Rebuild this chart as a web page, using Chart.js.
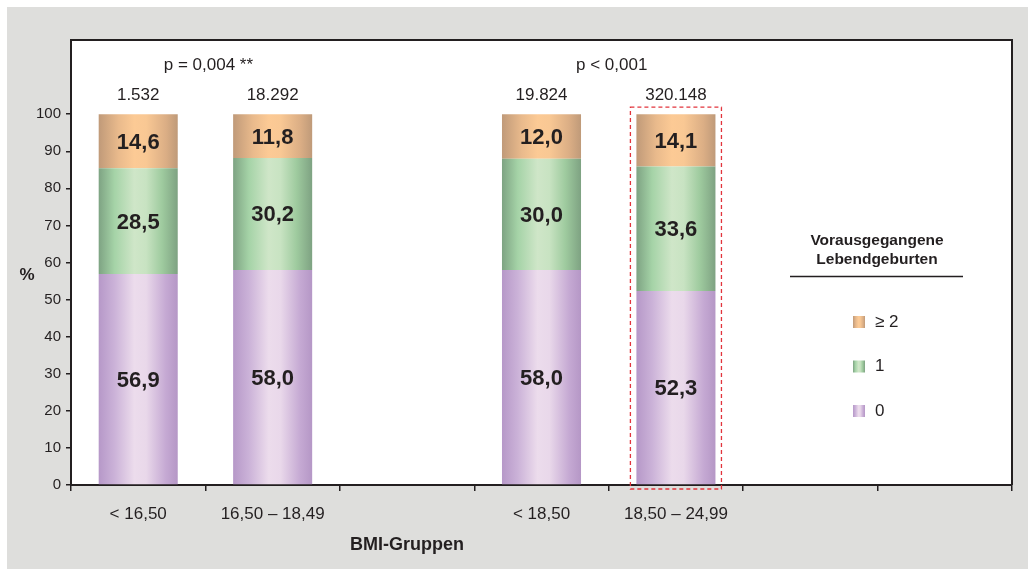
<!DOCTYPE html>
<html>
<head>
<meta charset="utf-8">
<script src="https://cdn.jsdelivr.net/npm/chart.js@4.4.1/dist/chart.umd.min.js"></script>
<style>
  html, body { margin: 0; padding: 0; background: #fff; }
  #wrap { position: relative; width: 1028px; height: 569px; }
</style>
</head>
<body>
<div id="wrap"><canvas id="bmiChart"></canvas></div>
<script>
// Daten (Prozent je BMI-Gruppe, leere Kategorien = Platzhalter)
const categories = ['< 16,50', '16,50 – 18,49', '', '< 18,50', '18,50 – 24,99', '', ''];
const lebendZero = [56.9, 58.0, null, 58.0, 52.3, null, null];
const lebendOne = [28.5, 30.2, null, 30.0, 33.6, null, null];
const lebendTwoPlus = [14.6, 11.8, null, 12.0, 14.1, null, null];
const caseCounts = ['1.532', '18.292', '', '19.824', '320.148', '', ''];
const pLabels = ['p = 0,004 **', 'p < 0,001'];
const pPairs = [[0, 1], [3, 4]];
const seriesNames = ['0', '1', '≥ 2'];
const highlightIndex = 4;

const FONT = "'Liberation Sans', Arial, sans-serif";
const INK = '#231f20';
const BAR_PCT = 0.588;

const gradStops = {
  purple: [[0, '#b698c8'], [0.2, '#cbb2d8'], [0.45, '#ecdcec'], [0.6, '#e9d8ea'], [0.85, '#c5a9d3'], [1, '#b597c6']],
  green:  [[0, '#7ea383'], [0.2, '#a5d3a7'], [0.45, '#cfe6c8'], [0.6, '#c8e3c2'], [0.8, '#9fcb9f'], [1, '#7ea282']],
  orange: [[0, '#c09a79'], [0.25, '#e9ba8c'], [0.45, '#fcca95'], [0.6, '#f9c894'], [0.85, '#dbae85'], [1, '#bf9a79']]
};

function makeGradient(ctx, left, right, stops) {
  const g = ctx.createLinearGradient(left, 0, right, 0);
  stops.forEach(([o, c]) => g.addColorStop(o, c));
  return g;
}

function barFill(stops) {
  return (c) => {
    const chart = c.chart;
    const xs = chart.scales && chart.scales.x;
    if (!chart.chartArea || !xs || c.dataIndex === undefined) return stops[2][1];
    const cx = xs.getPixelForValue(c.dataIndex);
    const half = xs.width / categories.length * BAR_PCT / 2;
    return makeGradient(chart.ctx, cx - half, cx + half, stops);
  };
}

const fmt = v => v.toFixed(1).replace('.', ',');

// Hintergrund, Rahmen, Beschriftungen, Legende
const decorations = {
  id: 'decorations',
  beforeDraw(chart) {
    const { ctx, chartArea: a } = chart;
    ctx.save();
    ctx.fillStyle = '#fff';
    ctx.fillRect(0, 0, chart.width, chart.height);
    ctx.fillStyle = '#dededc';
    ctx.fillRect(7, 7, chart.width - 7, chart.height - 7);
    ctx.fillStyle = '#fff';
    ctx.fillRect(a.left, a.top, a.right - a.left, a.bottom - a.top);
    ctx.restore();
  },
  afterDatasetsDraw(chart) {
    const { ctx } = chart;
    ctx.save();
    ctx.fillStyle = INK;
    ctx.font = `bold 22px ${FONT}`;
    ctx.textAlign = 'center';
    ctx.textBaseline = 'middle';
    chart.data.datasets.forEach((ds, i) => {
      chart.getDatasetMeta(i).data.forEach((el, j) => {
        const v = ds.data[j];
        if (v == null) return;
        ctx.fillText(fmt(v), el.x, (el.y + el.base) / 2 + 1.5);
      });
    });
    ctx.restore();
  },
  afterDraw(chart) {
    const { ctx, chartArea: a, scales: { x } } = chart;
    ctx.save();
    // Rahmen oben / rechts
    ctx.strokeStyle = INK;
    ctx.lineWidth = 2;
    ctx.beginPath();
    ctx.moveTo(a.left, a.top);
    ctx.lineTo(a.right, a.top);
    ctx.lineTo(a.right, a.bottom);
    ctx.stroke();

    ctx.fillStyle = INK;
    ctx.textAlign = 'center';
    ctx.textBaseline = 'middle';
    ctx.font = `17px ${FONT}`;
    caseCounts.forEach((n, i) => { if (n) ctx.fillText(n, x.getPixelForValue(i), 95); });
    pPairs.forEach(([i0, i1], k) => {
      const cx = (x.getPixelForValue(i0) + x.getPixelForValue(i1)) / 2;
      ctx.fillText(pLabels[k], cx + 3, 65);
    });

    ctx.font = `bold 17px ${FONT}`;
    ctx.fillText('%', 27, 275);
    ctx.font = `bold 18px ${FONT}`;
    ctx.fillText('BMI-Gruppen', x.getPixelForValue(2), 545);

    // Hervorhebung
    const el = chart.getDatasetMeta(2).data[highlightIndex];
    ctx.strokeStyle = '#e2343c';
    ctx.lineWidth = 1.3;
    ctx.setLineDash([4, 3]);
    ctx.strokeRect(el.x - el.width / 2 - 6, el.y - 7, el.width + 12, a.bottom - el.y + 11);
    ctx.setLineDash([]);

    // Legende
    ctx.font = `bold 15.5px ${FONT}`;
    ctx.fillText('Vorausgegangene', 877, 241);
    ctx.fillText('Lebendgeburten', 877, 260);
    ctx.strokeStyle = INK;
    ctx.lineWidth = 1.5;
    ctx.beginPath();
    ctx.moveTo(790, 276.5);
    ctx.lineTo(963, 276.5);
    ctx.stroke();

    const legendStops = [gradStops.orange, gradStops.green, gradStops.purple];
    const legendNames = seriesNames.slice().reverse();
    ctx.font = `17px ${FONT}`;
    ctx.textAlign = 'left';
    legendNames.forEach((name, i) => {
      const y = 322 + i * 44.5;
      ctx.fillStyle = makeGradient(ctx, 853, 865, legendStops[i]);
      ctx.fillRect(853, y - 6, 12, 12);
      ctx.fillStyle = INK;
      ctx.fillText(name, 875, y);
    });
    ctx.restore();
  }
};

new Chart(document.getElementById('bmiChart'), {
  type: 'bar',
  data: {
    labels: categories,
    datasets: [
      { label: seriesNames[0], data: lebendZero, backgroundColor: barFill(gradStops.purple) },
      { label: seriesNames[1], data: lebendOne, backgroundColor: barFill(gradStops.green) },
      { label: seriesNames[2], data: lebendTwoPlus, backgroundColor: barFill(gradStops.orange) }
    ]
  },
  options: {
    responsive: true,
    maintainAspectRatio: false,
    animation: false,
    layout: { padding: { top: 40, right: 16, bottom: 0, left: 0 } },
    datasets: { bar: { barPercentage: BAR_PCT, categoryPercentage: 1, borderWidth: 0 } },
    plugins: { legend: { display: false }, tooltip: { enabled: false } },
    scales: {
      x: {
        stacked: true,
        afterFit: s => { s.height = 84; },
        border: { color: INK, width: 2 },
        grid: { offset: true, drawOnChartArea: false, color: INK, tickLength: 6, lineWidth: 1.5 },
        ticks: { color: INK, font: { family: FONT, size: 17 }, padding: 13, maxRotation: 0, autoSkip: false }
      },
      y: {
        stacked: true,
        min: 0,
        max: 120,
        afterFit: s => { s.width = 71; },
        border: { color: INK, width: 2 },
        grid: {
          drawOnChartArea: false,
          tickLength: 5,
          lineWidth: 1.5,
          color: c => (c.tick && c.tick.value > 100) ? 'rgba(0,0,0,0)' : INK
        },
        ticks: {
          stepSize: 10,
          color: INK,
          padding: 5,
          font: { family: FONT, size: 15 },
          callback: v => (v > 100 ? '' : v)
        }
      }
    }
  },
  plugins: [decorations]
});
</script>
</body>
</html>
